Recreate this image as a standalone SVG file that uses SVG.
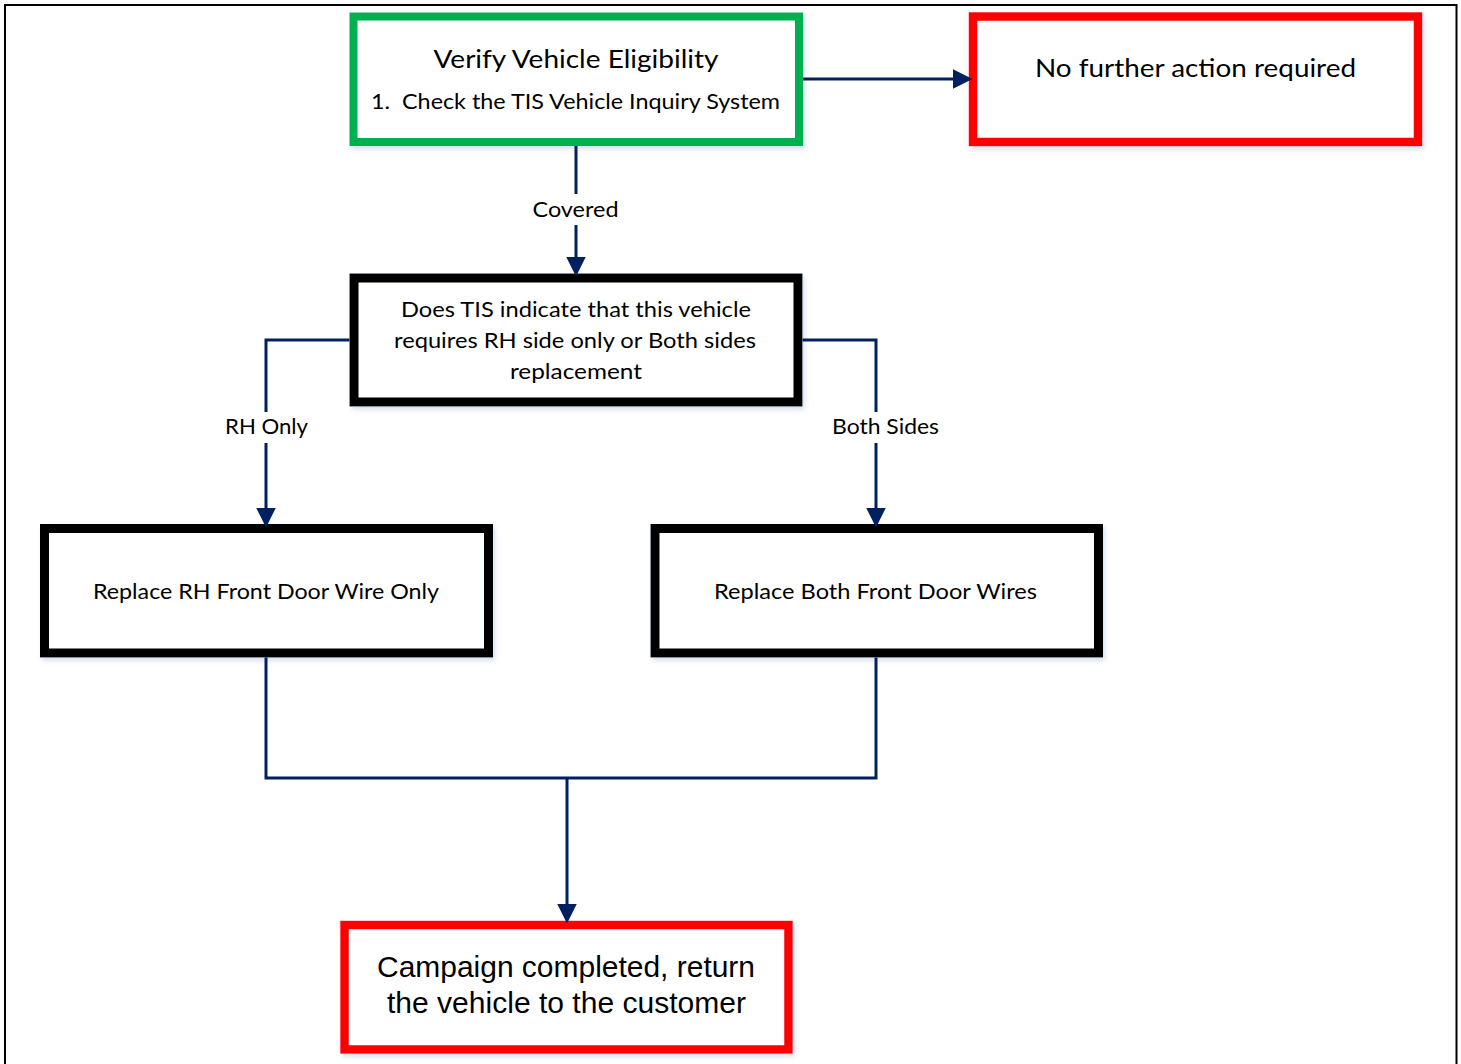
<svg xmlns="http://www.w3.org/2000/svg" width="1461" height="1064" viewBox="0 0 1461 1064">
<style>
.box{fill:#ffffff;filter:url(#sh)}
.green{stroke:#00b050;stroke-width:8}
.red{stroke:#ff0000;stroke-width:8.5}
.black{stroke:#000000;stroke-width:9}
.t{font-family:Lato,"Open Sans","Liberation Sans",sans-serif;fill:#000000;text-anchor:middle}
.a{font-family:"Liberation Sans",Arial,sans-serif;fill:#000000;text-anchor:middle;font-size:30px}
.con{fill:none;stroke:#002060;stroke-width:3}
.lblbg{fill:#ffffff}
</style>
<defs>
<filter id="sh" x="-5%" y="-5%" width="112%" height="120%">
<feDropShadow dx="2" dy="3" stdDeviation="2.5" flood-color="#9db8d9" flood-opacity="0.45"/>
</filter>
<marker id="arr" markerUnits="userSpaceOnUse" markerWidth="20" markerHeight="20" viewBox="0 0 19 19" refX="9" refY="9.5" orient="auto">
<path d="M0,0 L19,9.5 L0,19 z" fill="#002060"/>
</marker>
</defs>
<rect x="5" y="5" width="1451.5" height="1100" fill="#ffffff" stroke="#000000" stroke-width="2"/>

<g id="verify">
<rect class="box green" x="353.5" y="16.5" width="445.5" height="125.5"/>
<text class="t" x="576" y="68" font-size="25" textLength="285" lengthAdjust="spacingAndGlyphs">Verify Vehicle Eligibility</text>
<text class="t" x="575.5" y="109" font-size="21.5" textLength="409" lengthAdjust="spacingAndGlyphs" xml:space="preserve">1.  Check the TIS Vehicle Inquiry System</text>
</g>
<g id="nofurther">
<rect class="box red" x="973" y="16.5" width="445" height="125.5"/>
<text class="t" x="1195.5" y="77" font-size="25" textLength="321" lengthAdjust="spacingAndGlyphs">No further action required</text>
</g>
<g id="decision">
<rect class="box black" x="354" y="278" width="444" height="124"/>
<text class="t" x="576" y="317" font-size="21.5" textLength="350" lengthAdjust="spacingAndGlyphs">Does TIS indicate that this vehicle</text>
<text class="t" x="575" y="348" font-size="21.5" textLength="362" lengthAdjust="spacingAndGlyphs">requires RH side only or Both sides</text>
<text class="t" x="576" y="379" font-size="21.5" textLength="132" lengthAdjust="spacingAndGlyphs">replacement</text>
</g>
<g id="rhonly">
<rect class="box black" x="44.5" y="528.5" width="444" height="124.5"/>
<text class="t" x="266" y="599" font-size="21.5" textLength="346" lengthAdjust="spacingAndGlyphs">Replace RH Front Door Wire Only</text>
</g>
<g id="bothsides">
<rect class="box black" x="655" y="528.5" width="443.5" height="124.5"/>
<text class="t" x="875.5" y="599" font-size="21.5" textLength="323" lengthAdjust="spacingAndGlyphs">Replace Both Front Door Wires</text>
</g>
<g id="campaign">
<rect class="box red" x="344.5" y="925" width="444" height="124.5"/>
<text class="a" x="566" y="977" textLength="378" lengthAdjust="spacingAndGlyphs">Campaign completed, return</text>
<text class="a" x="566.5" y="1013" textLength="359" lengthAdjust="spacingAndGlyphs">the vehicle to the customer</text>
</g>

<g id="connectors">
<path class="con" d="M803,79 H962" marker-end="url(#arr)"/>
<path class="con" d="M576,146 V266" marker-end="url(#arr)"/>
<path class="con" d="M349.5,340 H266 V517" marker-end="url(#arr)"/>
<path class="con" d="M802.5,340 H876 V517" marker-end="url(#arr)"/>
<path class="con" d="M266,657.5 V778 H876 V657.5"/>
<path class="con" d="M567,778 V913" marker-end="url(#arr)"/>
<rect class="lblbg" x="529" y="194" width="94" height="31"/>
<text class="t" x="575.5" y="217" font-size="21.5" textLength="86" lengthAdjust="spacingAndGlyphs">Covered</text>
<rect class="lblbg" x="222" y="412" width="89" height="31"/>
<text class="t" x="266.5" y="434" font-size="21.5" textLength="83" lengthAdjust="spacingAndGlyphs">RH Only</text>
<rect class="lblbg" x="828" y="412" width="115" height="31"/>
<text class="t" x="885.5" y="434" font-size="21.5" textLength="107" lengthAdjust="spacingAndGlyphs">Both Sides</text>
</g>
</svg>
